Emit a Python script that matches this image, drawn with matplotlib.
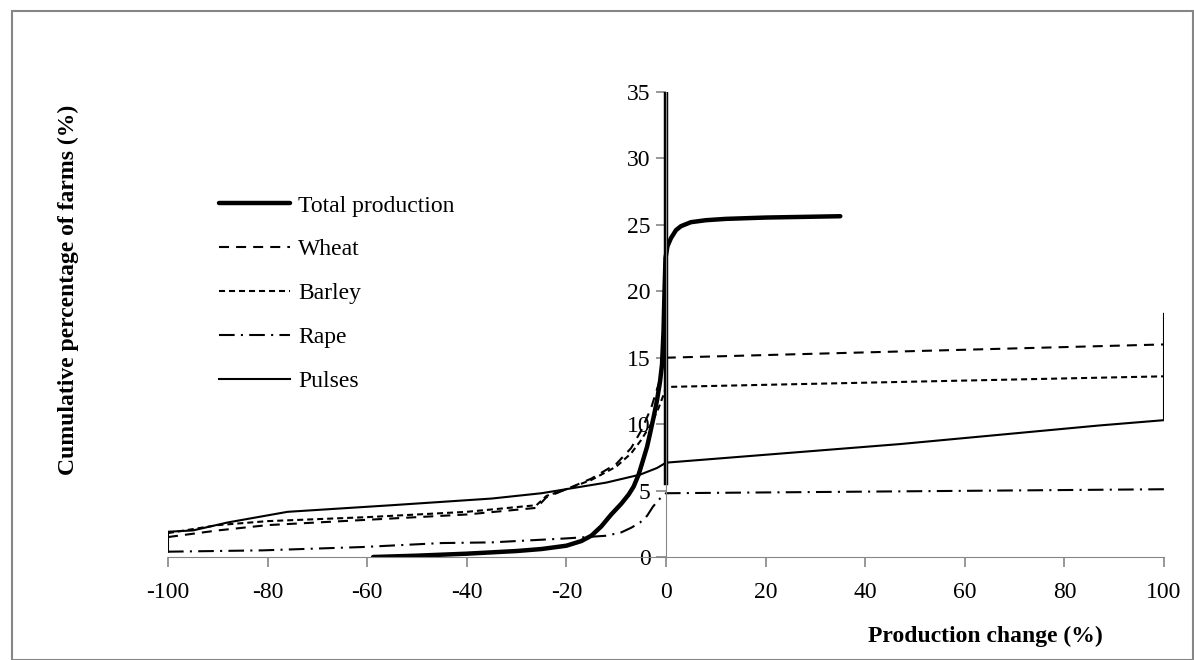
import matplotlib.pyplot as plt
from matplotlib.patches import Rectangle

plt.rcParams['font.family'] = ['Liberation Serif', 'DejaVu Serif']
plt.rcParams['axes.unicode_minus'] = False

# Cumulative distributions (production change %, cumulative % of farms)
total_x = [-58.8, -50, -40, -30, -25, -20, -17, -15, -13, -11, -9, -7.5, -6.5, -5.5, -4.6, -3.8,
           -3.2, -2.5, -1.8, -1.2, -0.8, -0.5, -0.3, -0.1, 0.3, 1, 2, 3, 5, 8, 12, 20, 35]
total_y = [0.0, 0.1, 0.25, 0.45, 0.6, 0.85, 1.2, 1.6, 2.3, 3.2, 4.0, 4.7, 5.3, 6.2, 7.3, 8.3,
           9.3, 10.5, 11.8, 13.2, 14.5, 17.0, 20.0, 22.5, 23.4, 24.0, 24.6, 24.9, 25.2, 25.35,
           25.45, 25.55, 25.65]
spike_x = [0, 0]
spike_y = [5.6, 35]

wheat_x = [-100, -90, -80, -60, -40, -26, -24, -20, -15, -10, -7, -5, -3, -1.5, -0.5, 0, 100]
wheat_y = [1.5, 2.0, 2.4, 2.8, 3.2, 3.7, 4.5, 5.1, 5.9, 7.0, 8.2, 9.5, 11.2, 13.0, 14.6, 15.0, 16.0]

barley_x = [-100, -90, -80, -60, -40, -26, -24, -20, -15, -10, -7, -5, -3, -1.5, -0.5, 0, 100]
barley_y = [1.8, 2.4, 2.7, 3.0, 3.4, 3.9, 4.6, 5.1, 5.8, 6.8, 7.8, 8.8, 10.0, 11.2, 12.2, 12.8, 13.6]

rape_x = [-100, -81, -61, -45, -35, -20, -12, -9, -7, -5.2, -3.8, -2.6, -1.2, 0, 100, 100]
rape_y = [0.4, 0.5, 0.75, 1.05, 1.1, 1.4, 1.6, 1.85, 2.2, 2.6, 3.1, 3.8, 4.4, 4.8, 5.1, 5.5]

pulses_x = [-100, -100, -95, -88, -76, -55, -35, -25, -12, -5.2, -1.8, 0, 47, 87, 100, 100]
pulses_y = [0.4, 1.9, 2.0, 2.6, 3.4, 3.9, 4.4, 4.8, 5.6, 6.2, 6.7, 7.1, 8.5, 9.9, 10.3, 18.3]

x_ticks = [-100, -80, -60, -40, -20, 0, 20, 40, 60, 80, 100]
y_ticks = [0, 5, 10, 15, 20, 25, 30, 35]

fig = plt.figure(figsize=(11.94, 6.6), dpi=100)
ax = fig.add_axes([168 / 1194, 103 / 660, 996 / 1194, 465 / 660])

ax.plot(total_x, total_y, color='black', lw=3.2, solid_capstyle='round',
        solid_joinstyle='round', label='Total production')
ax.plot(spike_x, spike_y, color='black', lw=3.2, label='_nolegend_')
ax.plot(wheat_x, wheat_y, color='black', lw=1.5, dashes=(4.8, 3.4), label='Wheat')
ax.plot(barley_x, barley_y, color='black', lw=1.5, dashes=(2.9, 1.9), label='Barley')
ax.plot(rape_x, rape_y, color='black', lw=1.5, dashes=(7.5, 3, 1, 3), label='Rape')
ax.plot(pulses_x, pulses_y, color='black', lw=1.5, label='Pulses')

ax.set_xlim(-100, 100)
ax.set_ylim(0, 35)
ax.set_xticks(x_ticks)
ax.set_yticks(y_ticks)

for s in ['top', 'right']:
    ax.spines[s].set_visible(False)
ax.spines['left'].set_position(('data', 0))
ax.spines['left'].set_color('#868686')
ax.spines['bottom'].set_color('#868686')
ax.tick_params(axis='both', colors='#868686', labelcolor='black', labelsize=17,
               direction='out', length=7, width=1.2)
ax.tick_params(axis='x', pad=11)
ax.tick_params(axis='y', pad=4)

fig.text(985 / 1194, 1 - 636 / 660, 'Production change (%)', fontsize=17, fontweight='bold',
         ha='center', va='center')
fig.text(68 / 1194, 1 - 290 / 660, 'Cumulative percentage of farms (%)', fontsize=17,
         fontweight='bold', rotation=90, ha='center', va='center')

ax.legend(loc='upper left', bbox_to_anchor=(219 / 1194, 1 - 195 / 660),
          bbox_transform=fig.transFigure, frameon=False, fontsize=17,
          handlelength=3.0, handletextpad=0.35, labelspacing=0.95, borderpad=0, borderaxespad=0)

fig.patches.append(Rectangle((12 / 1194, 0), 1 - 12 / 1194 - 1 / 1194, 1 - 11 / 660,
                             transform=fig.transFigure, fill=False, edgecolor='#868686', lw=1.5))

fig.savefig('out.png', dpi=100)
